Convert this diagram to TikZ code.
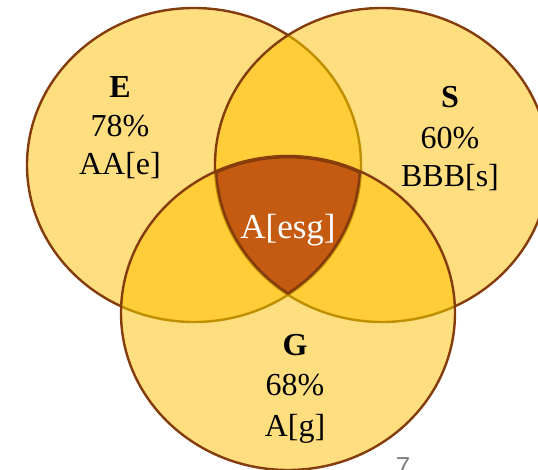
\documentclass[tikz,border=0pt]{standalone}
\usepackage{fontspec}
\setmainfont{Liberation Serif}
\newfontfamily\pagefont{Liberation Sans}
\usetikzlibrary{positioning}
\definecolor{vennlight}{HTML}{FFDE80}
\definecolor{vennpair}{HTML}{FFCD38}
\definecolor{venncore}{HTML}{C55A11}
\definecolor{vennedge}{HTML}{843C0C}
\definecolor{venngold}{HTML}{BF8F00}
\tikzset{setname/.style={anchor=base, font=\fontsize{32}{38}\selectfont\bfseries},
         settext/.style={anchor=base, font=\fontsize{32}{38}\selectfont},
         coretext/.style={anchor=base, white, font=\fontsize{35}{40}\selectfont}}
\def\Ecirc{(194,304) ellipse [x radius=167pt, y radius=157pt]}
\def\Scirc{(382,304) ellipse [x radius=167pt, y radius=157pt]}
\def\Gcirc{(288,156) ellipse [x radius=167pt, y radius=157pt]}

\begin{document}
\begin{tikzpicture}[x=1pt, y=1pt, line width=2.4pt]
  \useasboundingbox (0,0) rectangle (538,469);
  % E
  \fill[vennlight] \Ecirc;
  \draw[vennedge]  \Ecirc;
  % S
  \fill[vennlight] \Scirc;
  \begin{scope}
   \clip \Scirc;
   \fill[vennpair] \Ecirc;
   \draw[venngold] \Ecirc;
  \end{scope}
  \draw[vennedge] \Scirc;
  % G
  \fill[vennlight] \Gcirc;
  \begin{scope}
   \clip \Gcirc;
   \fill[vennpair] \Ecirc;
   \fill[vennpair] \Scirc;
   \draw[venngold] \Ecirc;
   \draw[venngold] \Scirc;
  \end{scope}
  \draw[vennedge] \Gcirc;
  % E and S and G
  \begin{scope}
   \clip \Ecirc; \clip \Scirc; \clip \Gcirc;
   \fill[venncore] \Gcirc;
   \draw[vennedge,line width=4.8pt] \Ecirc;
   \draw[vennedge,line width=4.8pt] \Scirc;
   \draw[vennedge,line width=4.8pt] \Gcirc;
  \end{scope}

  \node[setname] (ename) at (120,371) {E};
  \node[settext] (epct)  at (120,332) {78\%};
  \node[settext] (eset)  at (120,294) {AA[e]};

  \node[setname] (sname) at (450,361) {S};
  \node[settext] (spct)  at (450,320) {60\%};
  \node[settext] (sset)  at (450,282) {BBB[s]};

  \node[setname] (gname) at (295,114) {G};
  \node[settext] (gpct)  at (295, 74) {68\%};
  \node[settext] (gset)  at (295, 33) {A[g]};

  \node[coretext] (core) at (288,230) {A[esg]};

  \node[anchor=base, gray, font=\pagefont\fontsize{26}{30}\selectfont] (page) at (403,-6) {7};
\end{tikzpicture}
\end{document}
